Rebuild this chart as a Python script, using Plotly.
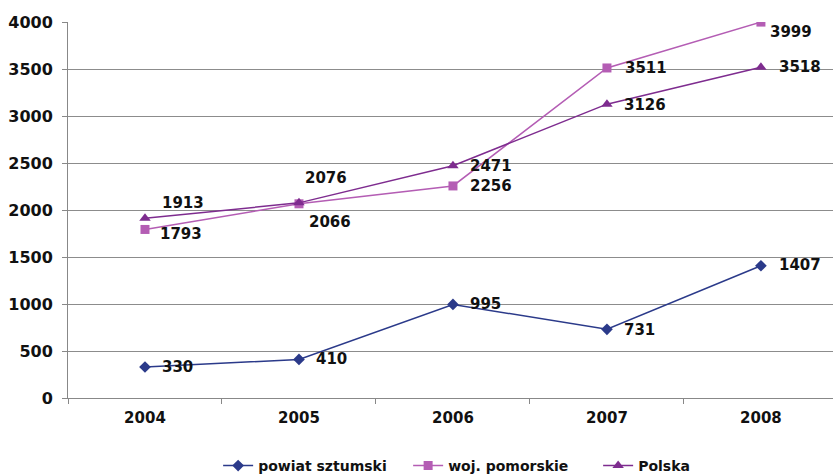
import plotly.graph_objects as go

years = ["2004", "2005", "2006", "2007", "2008"]
powiat = [330, 410, 995, 731, 1407]
pomorskie = [1793, 2066, 2256, 3511, 3999]
polska = [1913, 2076, 2471, 3126, 3518]

# label offsets (px) from each point to the label's left edge: (dx, dy), dy positive = up
powiat_off = [(15, 0), (15, 0), (15, 0), (15, -1), (16, 1)]
pomorskie_off = [(13, -5), (8, -18), (15, 0), (16, 0), (7, -10)]
polska_off = [(15, 15), (4, 25), (15, 0), (15, -1), (16, 0)]

series = [
    ("powiat sztumski", powiat, powiat_off, "#2B3A8A", "diamond", 9),
    ("woj. pomorskie", pomorskie, pomorskie_off, "#B45DB4", "square", 9),
    ("Polska", polska, polska_off, "#7E2C8F", "triangle-up", 10),
]

FONT = "DejaVu Sans"
fig = go.Figure()
annotations = []
for name, vals, offs, color, sym, size in series:
    fig.add_trace(go.Scatter(
        x=years, y=vals, name=f"<b>{name}</b>", mode="lines+markers",
        line=dict(color=color, width=1.5),
        marker=dict(symbol=sym, size=size, color=color),
    ))
    # category axes place annotations by category index
    for i, (v, (dx, dy)) in enumerate(zip(vals, offs)):
        annotations.append(dict(
            x=i, y=v, xref="x", yref="y", text=f"<b>{v}</b>", showarrow=False,
            xanchor="left", yanchor="middle", xshift=dx, yshift=dy,
            font=dict(family=FONT, size=15, color="#111111"),
        ))

fig.update_layout(
    width=833, height=474,
    margin=dict(l=68, r=0, t=22, b=76, autoexpand=False),
    paper_bgcolor="white", plot_bgcolor="white",
    showlegend=True,
    legend=dict(
        orientation="h", xref="container", x=0.604, xanchor="center",
        yref="container", y=0.017, yanchor="middle",
        font=dict(family=FONT, size=14, color="#111111"),
        traceorder="normal", entrywidth=145,
    ),
    annotations=annotations,
    font=dict(family=FONT),
)
fig.update_xaxes(
    type="category", range=[-0.5, 4.468],
    showgrid=False, showline=True, linecolor="#888888", linewidth=1,
    ticks="outside", tickson="boundaries", ticklen=5, tickcolor="#888888",
    tickfont=dict(family=FONT, size=15, color="#111111"),
    ticklabelstandoff=6,
    tickprefix="<b>", ticksuffix="</b>",
    zeroline=False,
)
fig.update_yaxes(
    range=[0, 4000], dtick=500,
    showgrid=True, gridcolor="#8c8c8c", gridwidth=1,
    showline=True, linecolor="#888888", linewidth=1,
    ticks="outside", ticklen=5, tickcolor="#888888",
    tickfont=dict(family=FONT, size=16, color="#111111"),
    ticklabelstandoff=6,
    tickprefix="<b>", ticksuffix="</b>",
    zeroline=False,
)

fig.write_html("out.html")
